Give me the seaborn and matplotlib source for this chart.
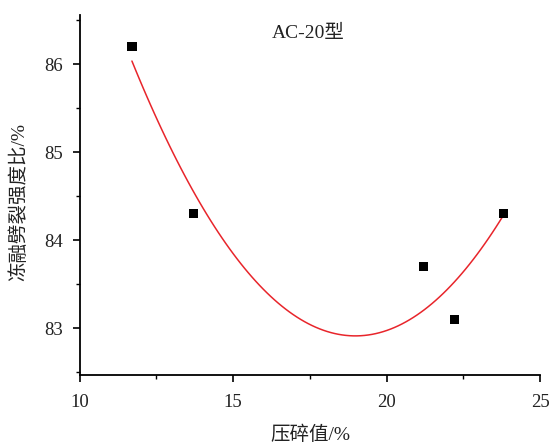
import matplotlib
matplotlib.use("Agg")
import matplotlib.pyplot as plt
import seaborn as sns
import pandas as pd
from matplotlib.ticker import MultipleLocator

crush = [11.7, 13.7, 21.2, 22.2, 23.8]
tsr = [86.2, 84.3, 83.7, 83.1, 84.3]

df = pd.DataFrame({"crush": crush, "tsr": tsr})

sns.set_style("ticks")
plt.rcParams['font.family'] = ['Liberation Serif', 'Noto Sans CJK SC', 'DejaVu Sans']

fig = plt.figure(figsize=(5.5, 4.42), dpi=100)
ax = fig.add_axes([0.145, 0.152, 0.837, 0.814])

sns.regplot(data=df, x="crush", y="tsr", order=2, ci=None, ax=ax,
            scatter=False, line_kws=dict(color="#e8252b", lw=1.1))
sns.scatterplot(data=df, x="crush", y="tsr", marker="s", s=45, color="black",
                edgecolor="none", ax=ax, zorder=3)

ax.set_xlim(10, 25)
ax.set_ylim(82.47, 86.56)
ax.xaxis.set_major_locator(MultipleLocator(5))
ax.xaxis.set_minor_locator(MultipleLocator(2.5))
ax.yaxis.set_major_locator(MultipleLocator(1))
ax.yaxis.set_minor_locator(MultipleLocator(0.5))
ax.tick_params(which="major", direction="out", length=5, width=1.2, labelsize=13.5,
               color="black", labelcolor="#222222")
ax.tick_params(axis="y", which="major", pad=7)
ax.tick_params(axis="x", which="major", pad=9)
ax.tick_params(which="minor", direction="out", length=3, width=1.0, color="black")
for s in ["left", "bottom"]:
    ax.spines[s].set_linewidth(1.3)
    ax.spines[s].set_color("black")
sns.despine(ax=ax)

ax.set_xlabel("压碎值/%", fontsize=14, color="#222222", labelpad=10)
ax.set_ylabel("冻融劈裂强度比/%", fontsize=14, color="#222222")
ax.yaxis.set_label_coords(-0.113, 0.48)
ax.text(0.496, 0.95, "AC-20型", transform=ax.transAxes, ha="center", va="center",
        fontsize=14, color="#222222")

fig.savefig("out.png", dpi=100)
